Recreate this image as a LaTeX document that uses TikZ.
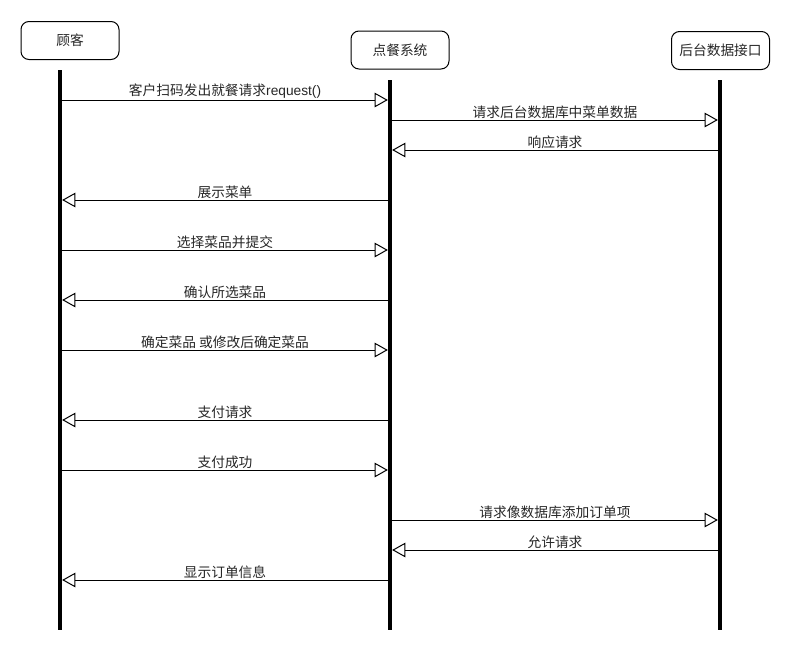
\documentclass[tikz,border=0pt]{standalone}
\usepackage{fontspec}
\setmainfont{Liberation Sans}
\newfontfamily\cjk{Noto Sans CJK SC}
\usetikzlibrary{arrows.meta}
\tikzset{
  actor/.style={draw=black, line width=0.75pt, rounded corners=6pt, minimum width=73.5pt, minimum height=28.5pt, inner sep=0pt, font=\cjk\fontsize{10.3pt}{12pt}\selectfont, text=black!85},
  life/.style={line width=3.4pt, black},
  msg/.style={line width=0.75pt, -{Triangle[open, length=10pt, width=11pt, line width=0.75pt]}, shorten >=1.6pt, shorten <=1.6pt},
  lbl/.style={midway, above=0.6pt, inner sep=0pt, font=\fontsize{10.3pt}{12pt}\selectfont, text=black!85}
}
\begin{document}
\begin{tikzpicture}[x=0.75pt, y=-0.75pt]
\useasboundingbox (0,0) rectangle (790,650);
% actors
\node[actor] (A) at (70,40.5) {顾客};
\node[actor] (B) at (400,50) {点餐系统};
\node[actor] (C) at (720.5,50.5) {后台数据接口};
% lifeline coordinates
\coordinate (L1) at (60,70);
\coordinate (L1e) at (60,630);
\coordinate (L2) at (390,80);
\coordinate (L2e) at (390,630);
\coordinate (L3) at (720,80);
\coordinate (L3e) at (720,630);
% message rows
\coordinate (m1) at (0,100);
\coordinate (m2) at (0,120);
\coordinate (m3) at (0,150);
\coordinate (m4) at (0,200);
\coordinate (m5) at (0,250);
\coordinate (m6) at (0,300);
\coordinate (m7) at (0,350);
\coordinate (m8) at (0,420);
\coordinate (m9) at (0,470);
\coordinate (m10) at (0,520);
\coordinate (m11) at (0,550);
\coordinate (m12) at (0,580);
% messages
\draw[msg] (L1 |- m1) -- node[lbl] {{\cjk 客户扫码发出就餐请求}request()} (L2 |- m1);
\draw[msg] (L2 |- m2) -- node[lbl] {\cjk 请求后台数据库中菜单数据} (L3 |- m2);
\draw[msg] (L3 |- m3) -- node[lbl] {\cjk 响应请求} (L2 |- m3);
\draw[msg] (L2 |- m4) -- node[lbl] {\cjk 展示菜单} (L1 |- m4);
\draw[msg] (L1 |- m5) -- node[lbl] {\cjk 选择菜品并提交} (L2 |- m5);
\draw[msg] (L2 |- m6) -- node[lbl] {\cjk 确认所选菜品} (L1 |- m6);
\draw[msg] (L1 |- m7) -- node[lbl] {\cjk 确定菜品 或修改后确定菜品} (L2 |- m7);
\draw[msg] (L2 |- m8) -- node[lbl] {\cjk 支付请求} (L1 |- m8);
\draw[msg] (L1 |- m9) -- node[lbl] {\cjk 支付成功} (L2 |- m9);
\draw[msg] (L2 |- m10) -- node[lbl] {\cjk 请求像数据库添加订单项} (L3 |- m10);
\draw[msg] (L3 |- m11) -- node[lbl] {\cjk 允许请求} (L2 |- m11);
\draw[msg] (L2 |- m12) -- node[lbl] {\cjk 显示订单信息} (L1 |- m12);
% lifelines
\draw[life] (L1) -- (L1e);
\draw[life] (L2) -- (L2e);
\draw[life] (L3) -- (L3e);
\end{tikzpicture}
\end{document}
